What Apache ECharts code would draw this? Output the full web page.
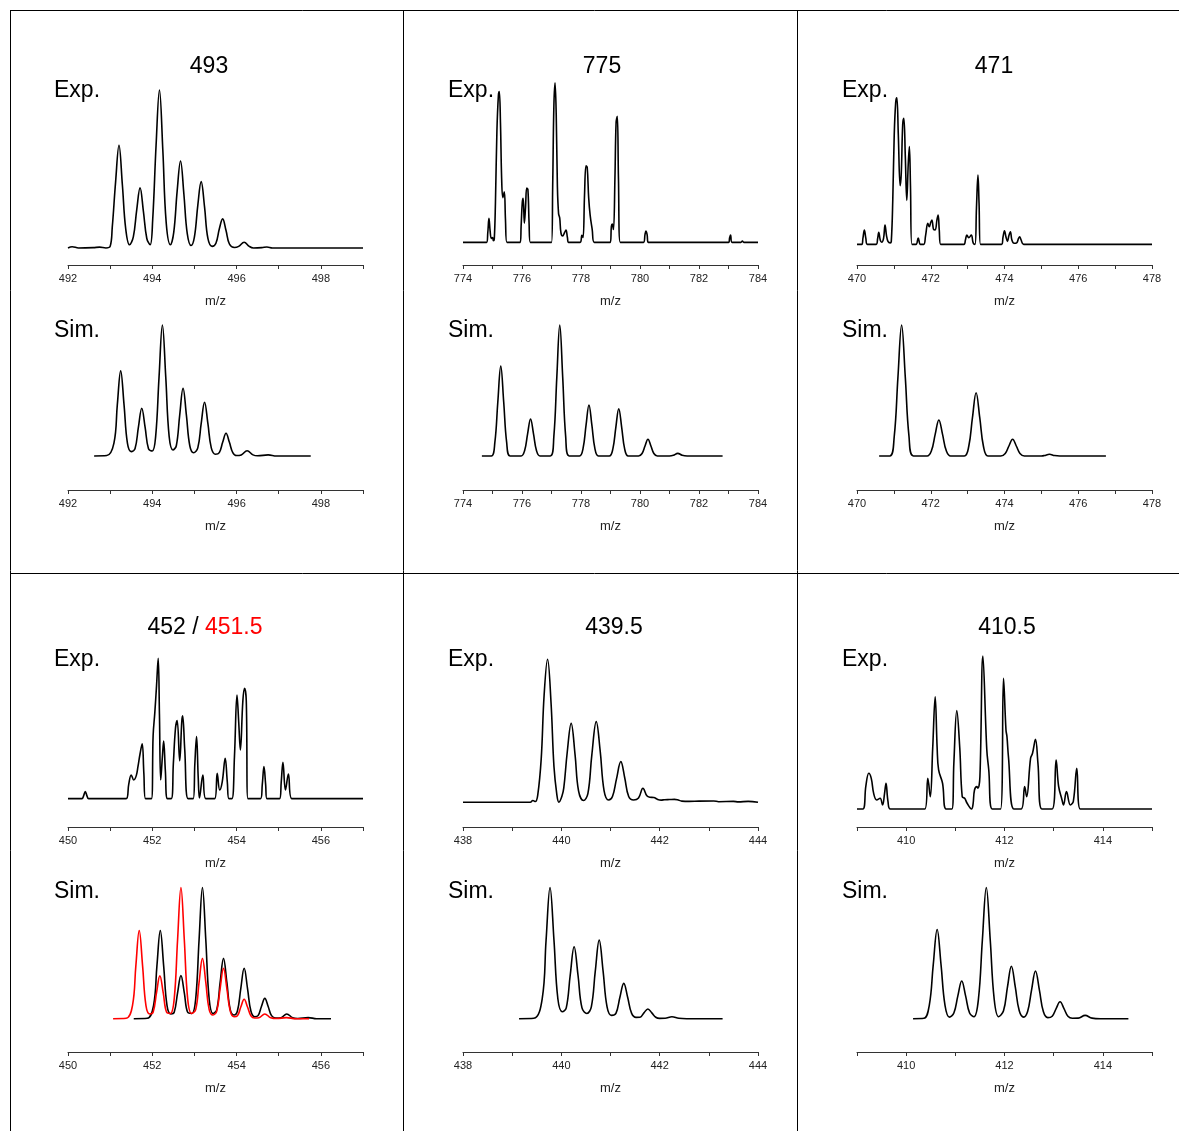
<!DOCTYPE html>
<html><head><meta charset="utf-8">
<script src="https://cdn.jsdelivr.net/npm/echarts@6/dist/echarts.min.js"></script>
<style>html,body{margin:0;padding:0;background:#fff}#c{width:1179px;height:1131px}</style>
</head><body><div id="c"></div>
<script>
// ---------- data (m/z, relative intensity) ----------
const exp493 = [[492,0],[492.1,0.8],[492.25,0],[492.6,0.2],[492.75,0.5],[492.9,0],[493.0,1],
 [493.05,13],[493.13,42],[493.21,65],[493.29,40],[493.37,12],[493.46,2],
 [493.55,7],[493.63,24],[493.71,38],[493.79,23],[493.87,6],[493.95,2],
 [494.01,18],[494.09,65],[494.17,100],[494.25,62],[494.33,16],[494.43,2],
 [494.51,10],[494.59,36],[494.67,55],[494.75,34],[494.83,9],[494.92,1.5],
 [495.0,7],[495.08,27],[495.16,42],[495.24,26],[495.32,6],[495.42,1],
 [495.51,3],[495.59,12],[495.67,18.4],[495.75,11],[495.83,2.5],[495.95,0.3],
 [496.05,1],[496.18,3.6],[496.3,1],[496.4,0],[496.6,0.2],[496.72,0.6],[496.85,0],[499,0]];
const sim493 = [[492.62,0],[492.92,0.3],
 [493.09,9.8],[493.17,39],[493.25,65],[493.33,39],[493.41,9.8],[493.50,3.3],
 [493.59,5.5],[493.67,21.8],[493.75,36.4],[493.83,21.8],[493.91,5.5],[494.00,3.8],
 [494.08,15],[494.16,60],[494.24,100],[494.32,60],[494.40,15],[494.49,4.6],
 [494.57,7.8],[494.65,31],[494.73,51.7],[494.81,31],[494.89,7.8],[494.98,2.5],
 [495.08,6.2],[495.16,24.6],[495.24,41],[495.32,24.6],[495.40,6.2],[495.50,1.3],
 [495.59,2.6],[495.67,10.4],[495.75,17.3],[495.83,10.4],[495.91,2.6],[496.0,0.3],
 [496.11,0.8],[496.25,4],[496.39,0.8],[496.5,0.1],[496.75,0.8],[496.95,0],[497.76,0]];
const exp775 = [[774,0],[774.8,0],[774.84,6],[774.88,15],[774.92,7],[774.96,2.5],[775.0,3],[775.03,1],[775.06,2],
 [775.1,25],[775.15,70],[775.2,92],[775.23,94.4],[775.27,75],[775.31,40],[775.35,28],[775.40,31.7],[775.44,14],[775.49,0],
 [775.94,0],[775.97,10],[776.01,25],[776.04,27.6],[776.08,12],[776.12,22],[776.16,34],[776.2,33],[776.24,12],[776.28,0],
 [777.0,0],[777.04,35],[777.08,85],[777.12,100],[777.16,80],[777.2,35],[777.24,18],[777.28,15],[777.32,6],[777.38,4],[777.44,6],[777.49,7.7],[777.54,3],[777.58,0],
 [777.97,0],[778.03,4.4],[778.07,3],[778.12,30],[778.17,48],[778.21,47],[778.26,28],[778.31,17],[778.38,8],[778.45,0],
 [778.99,0],[779.03,10],[779.06,11.5],[779.1,8],[779.15,40],[779.19,75],[779.23,79],[779.27,40],[779.33,0],
 [780.12,0],[780.17,5],[780.2,7],[780.24,5],[780.28,0],
 [783.0,0],[783.04,3],[783.07,4.6],[783.12,0],[783.42,0],[783.47,0.8],[783.52,0],[784,0]];
const sim775 = [[774.64,0],[774.96,0],
 [775.08,10.3],[775.18,41.2],[775.28,68.7],[775.38,41.2],[775.48,10.3],[775.6,0],
 [775.97,0],[776.09,4.2],[776.19,16.9],[776.29,28.2],[776.39,16.9],[776.49,4.2],[776.61,0],
 [776.96,0],[777.08,15],[777.18,60],[777.28,100],[777.38,60],[777.48,15],[777.6,0],
 [777.95,0],[778.07,5.8],[778.17,23.3],[778.27,38.9],[778.37,23.3],[778.47,5.8],[778.59,0],
 [778.96,0],[779.08,5.4],[779.18,21.7],[779.28,36.1],[779.38,21.7],[779.48,5.4],[779.6,0],
 [779.95,0],[780.07,1.9],[780.17,7.6],[780.27,12.7],[780.37,7.6],[780.47,1.9],[780.59,0],
 [781.0,0],[781.13,0.5],[781.28,2],[781.43,0.5],[781.6,0],[782.8,0]];
const exp471 = [[470,0],[470.13,0],[470.16,4],[470.2,9.8],[470.24,4],[470.28,0],[470.52,0],[470.56,4],[470.59,8.2],[470.63,3],[470.67,1.4],[470.72,4],[470.76,13.2],[470.8,6],[470.84,2],[470.9,1],
 [470.93,2],[470.97,30],[471.01,75],[471.05,97],[471.08,100],[471.12,75],[471.17,40],[471.2,48],[471.24,82],[471.27,86],[471.31,60],[471.35,30],[471.39,55],[471.42,66.6],[471.45,40],[471.49,0],
 [471.6,0],[471.66,4.3],[471.72,0],[471.81,0],[471.86,6],[471.92,14.3],[471.96,12],[472.0,15],[472.03,16.6],[472.08,10],[472.12,9.8],[472.17,17],[472.2,20],[472.23,10],[472.27,0],
 [472.9,0],[472.94,3],[472.98,6.4],[473.03,4.5],[473.1,6.4],[473.15,1],[473.2,0],[473.24,25],[473.28,47.3],[473.31,28],[473.35,0],
 [473.92,0],[473.96,5],[474.0,9.3],[474.04,5],[474.08,2],[474.12,6],[474.16,8.6],[474.2,3],[474.26,0.7],[474.33,1],[474.38,4],[474.41,5.2],[474.45,3],[474.52,0],[478,0]];
const sim471 = [[470.6,0],[470.89,0],
 [471.01,15],[471.11,60],[471.21,100],[471.31,60],[471.41,15],[471.53,0],
 [471.90,0],[472.02,4.1],[472.12,16.5],[472.22,27.5],[472.32,16.5],[472.42,4.1],[472.54,0],
 [472.91,0],[473.03,7.2],[473.13,29],[473.23,48.3],[473.33,29],[473.43,7.2],[473.55,0],
 [473.90,0],[474.02,1.9],[474.12,7.6],[474.22,12.7],[474.32,7.6],[474.42,1.9],[474.54,0],
 [475.0,0],[475.08,0.3],[475.22,1.3],[475.36,0.3],[475.5,0],[476.75,0]];
const exp452 = [[450,0],[450.33,0],[450.37,2],[450.41,5],[450.45,2],[450.49,0],[451.38,0],[451.44,10],[451.5,16.9],[451.56,13.3],[451.62,16.4],[451.66,22.8],[451.71,32],[451.76,39],[451.8,18],[451.84,0],
 [451.98,0],[452.02,45],[452.06,61.3],[452.1,80],[452.14,100],[452.17,60],[452.2,13.3],[452.24,30],[452.27,41],[452.31,20],[452.36,0],
 [452.45,0],[452.5,25],[452.55,50],[452.59,55.6],[452.65,27],[452.7,55],[452.72,59],[452.77,35],[452.85,0],
 [452.97,0],[453.01,25],[453.05,44.2],[453.09,15],[453.12,0.5],[453.2,16.9],[453.27,0],
 [453.48,0],[453.54,18],[453.6,6.2],[453.66,12],[453.73,28.7],[453.78,12],[453.82,0],
 [453.89,0],[453.95,30],[454.01,73.9],[454.05,55],[454.09,34.7],[454.15,70],[454.19,78.6],[454.23,70],[454.27,0],
 [454.57,0],[454.61,10],[454.65,22.8],[454.69,10],[454.72,0],
 [455.02,0],[455.06,12],[455.1,25.9],[455.16,6.2],[455.23,17.6],[455.31,0],[457,0]];
const sim452 = [[451.56,0],[451.88,0.3],
 [452.03,10],[452.11,40.3],[452.19,67.2],[452.27,40.3],[452.35,10],[452.44,3.6],
 [452.52,4.9],[452.60,19.7],[452.68,32.8],[452.76,19.7],[452.84,4.9],[452.94,4],
 [453.03,15],[453.11,60],[453.19,100],[453.27,60],[453.35,15],[453.44,4],
 [453.53,6.9],[453.61,27.6],[453.69,46],[453.77,27.6],[453.85,6.9],[453.94,2.8],
 [454.02,5.8],[454.10,23],[454.18,38.4],[454.26,23],[454.34,5.8],[454.43,1.5],
 [454.51,2.3],[454.59,9.3],[454.67,15.5],[454.75,9.3],[454.83,2.3],[454.93,0.5],
 [455.05,0.7],[455.19,3.6],[455.33,0.7],[455.45,0.1],[455.7,0.8],[455.9,0],[456.24,0]];
const sim4515 = [[451.07,0],[451.38,0.3],
 [451.53,10],[451.61,40.3],[451.69,67.2],[451.77,40.3],[451.85,10],[451.94,3.6],
 [452.02,4.9],[452.10,19.6],[452.18,32.6],[452.26,19.6],[452.34,4.9],[452.43,4],
 [452.52,15],[452.60,60],[452.68,100],[452.76,60],[452.84,15],[452.93,4],
 [453.03,6.9],[453.11,27.6],[453.19,46],[453.27,27.6],[453.35,6.9],[453.44,2.8],
 [453.53,5.8],[453.61,23],[453.69,38.4],[453.77,23],[453.85,5.8],[453.94,1.5],
 [454.02,2.2],[454.10,8.9],[454.18,14.8],[454.26,8.9],[454.34,2.2],[454.43,0.5],
 [454.53,0.7],[454.67,3.6],[454.81,0.7],[454.95,0.1],[455.18,0.8],[455.4,0],[455.72,0]];
const exp4395 = [[438,0],[439.37,0],[439.42,1.2],[439.47,0.5],[439.52,5],[439.59,30],[439.65,75],[439.72,100],[439.79,70],[439.85,25],[439.91,5],[439.95,0],[440.01,4],[440.05,10],
 [440.12,35],[440.2,55.2],[440.28,33],[440.35,8],[440.45,1.2],
 [440.54,6],[440.62,33],[440.71,56.4],[440.79,36],[440.87,8],[440.96,1.6],
 [441.04,4],[441.12,16],[441.21,28.4],[441.29,17],[441.37,4],[441.47,1.6],
 [441.57,3],[441.66,9.8],[441.74,4.5],[441.8,3.5],[441.88,3.3],[441.96,2],[442.03,1.5],[442.1,1.8],[442.2,1.9],[442.3,2],[442.36,1.8],[442.45,0.8],[442.6,0.6],[442.8,0.8],[443.1,0.9],[443.2,0.4],[443.5,0.6],[443.6,0.3],[443.8,0.6],[444,0]];
const sim4395 = [[439.14,0],[439.44,0.3],
 [439.61,15],[439.69,60],[439.77,100],[439.85,60],[439.93,15],[440.02,5.3],
 [440.10,8.2],[440.18,32.9],[440.26,54.8],[440.34,32.9],[440.42,8.2],[440.52,4],
 [440.61,9],[440.69,36],[440.77,59.9],[440.85,36],[440.93,9],[441.02,2.5],
 [441.11,4],[441.19,16.1],[441.27,26.9],[441.35,16.1],[441.43,4],[441.52,1],
 [441.60,1.1],[441.68,4.4],[441.76,7.4],[441.84,4.4],[441.92,1.1],[442.0,0.2],
 [442.11,0.3],[442.25,1.5],[442.39,0.3],[442.55,0],[443.28,0]];
const exp4105 = [[409,0],[409.12,0],[409.18,15],[409.24,23.3],[409.29,20],[409.34,10],[409.4,5.9],[409.47,7],[409.52,2.6],[409.56,10],[409.59,16.8],[409.63,5],[409.68,0],
 [410.38,0],[410.44,20],[410.49,8],[410.54,40],[410.59,73.4],[410.63,40],[410.66,25.5],[410.74,16.8],[410.81,0],
 [410.93,0],[410.97,30],[411.03,64.3],[411.09,40],[411.14,8],[411.19,7],[411.24,3.7],[411.33,0],
 [411.36,3],[411.39,12.4],[411.44,14.6],[411.46,13.5],[411.5,21],[411.56,100],[411.64,38.6],[411.68,25.5],[411.75,0],
 [411.92,0],[411.98,85.4],[412.03,51.6],[412.05,47.3],[412.08,34.2],[412.19,0],
 [412.34,0],[412.41,14.6],[412.45,8],[412.53,33.1],[412.57,36.4],[412.63,45.5],[412.68,30],[412.76,0],
 [412.97,0],[413.05,32],[413.1,15],[413.17,5.9],[413.2,2.6],[413.26,11.3],[413.34,2.6],[413.4,5],[413.47,26.6],[413.54,0],[415,0]];
const sim4105 = [[410.14,0],[410.36,0.3],
 [410.47,10.2],[410.55,40.8],[410.63,68],[410.71,40.8],[410.79,10.2],[410.88,1.2],
 [410.97,4.3],[411.05,17.2],[411.13,28.7],[411.21,17.2],[411.29,4.3],[411.38,1.5],
 [411.47,15],[411.55,60],[411.63,100],[411.71,60],[411.79,15],[411.88,1.5],
 [411.98,6],[412.06,24],[412.14,40],[412.22,24],[412.30,6],[412.39,1.2],
 [412.47,5.4],[412.55,21.8],[412.63,36.3],[412.71,21.8],[412.79,5.4],[412.88,0.8],
 [412.97,1.9],[413.05,7.7],[413.13,12.9],[413.21,7.7],[413.29,1.9],[413.38,0.3],
 [413.50,0.4],[413.64,2.5],[413.78,0.4],[413.95,0],[414.52,0]];

// axis ranges (m/z)
const xRanges = [[492,499],[774,784],[470,478],[450,457],[438,444],[409,415]];
const titles = ['493','775','471','452 / 451.5','439.5','410.5'];

// ---------- layout ----------
const FONT = '"Liberation Sans", Arial, sans-serif';
const colX = [68, 463, 857];
const AW = 295;
// sub-plots: [panel, col, axisY, topY, yMin, seriesList]
const subs = [
  [0,0,265,90,-10.8,[[exp493,'#000']]],
  [0,0,490,325,-26,[[sim493,'#000']]],
  [1,1,265,82.7,-14.2,[[exp775,'#000']]],
  [1,1,490,325,-26,[[sim775,'#000']]],
  [2,2,265,97.7,-14.1,[[exp471,'#000']]],
  [2,2,490,325,-26,[[sim471,'#000']]],
  [3,0,827,658.3,-20.2,[[exp452,'#000']]],
  [3,0,1052,887.5,-25.4,[[sim452,'#000'],[sim4515,'#ff0000']]],
  [4,1,827,659.3,-17.3,[[exp4395,'#000']]],
  [4,1,1052,887.5,-25.4,[[sim4395,'#000']]],
  [5,2,827,656,-11.8,[[exp4105,'#000']]],
  [5,2,1052,887.5,-25.4,[[sim4105,'#000']]]
];
const grid=[], xAxis=[], yAxis=[], series=[];
subs.forEach((s,i)=>{
  const [p,c,ay,ty,ymin,sl]=s;
  grid.push({left:colX[c], top:ty, width:AW, height:ay-ty, containLabel:false});
  xAxis.push({type:'value', gridIndex:i, min:xRanges[p][0], max:xRanges[p][1], interval:1,
    name:'m/z', nameLocation:'middle', nameGap:30,
    nameTextStyle:{fontFamily:FONT, fontSize:13, color:'#222'},
    axisLine:{onZero:false, lineStyle:{color:'#333', width:1}},
    axisTick:{length:4, lineStyle:{color:'#333'}},
    axisLabel:{interval:0, margin:8, fontFamily:FONT, fontSize:11, color:'#222',
      formatter:v=> (Math.round(v)%2===0 ? String(Math.round(v)) : '')},
    splitLine:{show:false}});
  yAxis.push({type:'value', gridIndex:i, min:ymin, max:100, show:false, splitLine:{show:false}});
  sl.forEach(([d,col])=>{
    series.push({type:'line', xAxisIndex:i, yAxisIndex:i, data:d, showSymbol:false, symbol:'none',
      smooth:0.4, clip:false, lineStyle:{color:col, width:1.6}, silent:true});
  });
});

const T = (text,x,y,size,align,color)=>({type:'text', x, y, silent:true,
  style:{text, font:`${size}px ${FONT}`, fill:color||'#000', textAlign:align||'center', textVerticalAlign:'middle'}});
const L = (x1,y1,x2,y2)=>({type:'line', silent:true, shape:{x1,y1,x2,y2}, style:{stroke:'#000', lineWidth:1}});
const graphic = [
  L(10,10.5,1179,10.5), L(10,573.5,1179,573.5), L(10.5,10,10.5,1131), L(403.5,10,403.5,1131), L(797.5,10,797.5,1131),
  T(titles[0],209,67,23), T(titles[1],602,67,23), T(titles[2],994,67,23),
  T('452 / ',205,628,23,'right'), T('451.5',205,628,23,'left','#ff0000'),
  T(titles[4],614,628,23), T(titles[5],1007,628,23)
];
[54,448,842].forEach(x=>{
  graphic.push(T('Exp.',x,91,23,'left'), T('Sim.',x,331,23,'left'),
               T('Exp.',x,660,23,'left'), T('Sim.',x,892,23,'left'));
});

const chart = echarts.init(document.getElementById('c'), null, {renderer:'canvas'});
chart.setOption({animation:false, backgroundColor:'#fff', grid, xAxis, yAxis, series, graphic});
</script></body></html>
